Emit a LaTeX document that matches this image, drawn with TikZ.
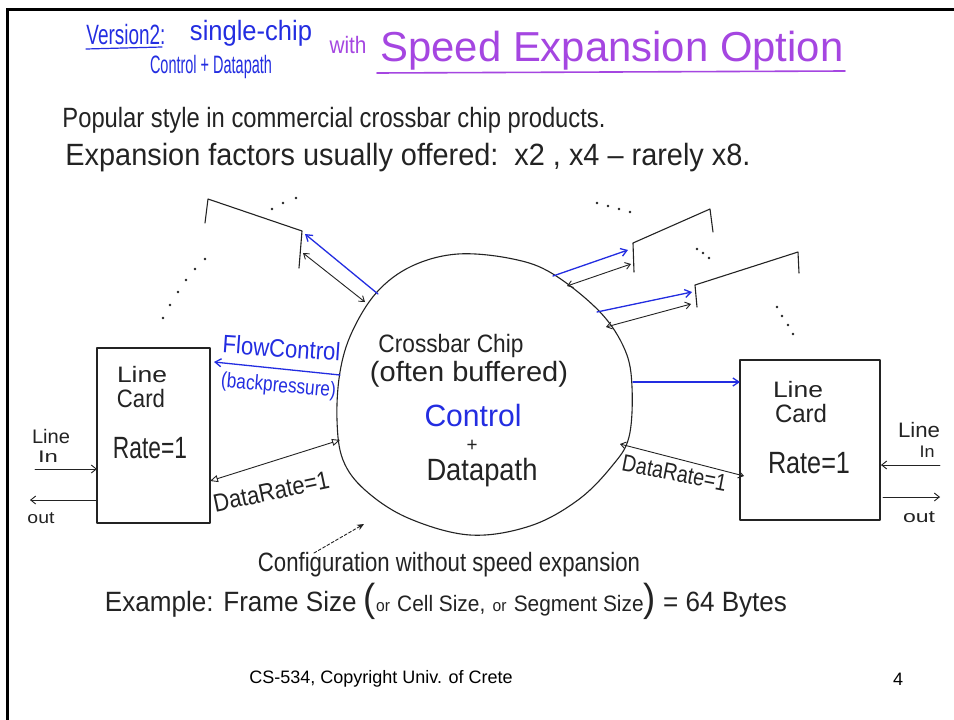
\documentclass[tikz,border=0pt]{standalone}
\usepackage{fontspec}
\setmainfont{Liberation Sans}
\usetikzlibrary{arrows.meta}
\definecolor{penblue}{RGB}{35,45,225}
\definecolor{penpurple}{RGB}{165,70,225}
\definecolor{ink}{RGB}{35,35,35}
% handwritten-style word: #1 = width, #2 = height of the 12pt strut after scaling (pt)
\newcommand{\hw}[3]{\resizebox{#1pt}{#2pt}{\fontsize{10}{12}\selectfont\rule{0pt}{12pt}#3}}

\begin{document}
\begin{tikzpicture}[x=1pt,y=-1pt,
  pen/.style={draw=ink,line width=1.1pt,line cap=round,line join=round},
  bluepen/.style={draw=penblue,line width=1.3pt,line cap=round,line join=round},
  txt/.style={inner sep=0pt,outer sep=0pt,anchor=base,text=ink},
  bluetxt/.style={txt,text=penblue},
  purpletxt/.style={txt,text=penpurple},
  card/.style={pen,rectangle,inner sep=0pt},
  sendblue/.style={bluepen,-{Straight Barb[length=6pt,width=8pt]}},
  twoway/.style={pen,line width=0.9pt,{Straight Barb[length=5pt,width=7pt]}-{Straight Barb[length=5pt,width=7pt]}},
  dataway/.style={pen,line width=0.9pt,{Triangle[open,length=8pt,width=7pt]}-{Triangle[open,length=8pt,width=7pt]}},
  oneway/.style={pen,line width=0.9pt,-{Straight Barb[length=5pt,width=8pt]}},
  dot/.style={fill=ink,circle,inner sep=0pt,minimum size=2.6pt}
]
% page area and slide frame
\useasboundingbox (0,0) rectangle (954,720);
\fill[white] (0,0) rectangle (954,720);
\draw[black,line width=3pt] (7.5,720) -- (7.5,9.5) -- (954,9.5);

% ---- heading ----
\node[bluetxt] (ver) at (126,44) {\hw{79}{33.5}{Version2:}};
\coordinate (verUL1) at (86,49);
\coordinate (verUL2) at (162,47);
\draw[bluepen,line width=1.2pt] (verUL1) -- (verUL2);
\node[bluetxt] (single) at (251,40) {\hw{122}{33.5}{single-chip}};
\node[bluetxt] (ctrldp) at (211,73) {\hw{122}{30.2}{Control + Datapath}};
\node[purpletxt] (with) at (348,53) {\hw{37}{28.5}{with}};
\node[purpletxt] (speed) at (612,61) {\hw{463}{50.3}{Speed Expansion Option}};
\coordinate (spUL1) at (377,73);
\coordinate (spUL2) at (845,71);
\draw[draw=penpurple,line width=1.6pt,line cap=round] (spUL1) -- (spUL2);

\node[txt] (popular) at (334,127) {\hw{543}{33.5}{Popular style in commercial crossbar chip products.}};
\node[txt] (factors) at (408,165) {\hw{685}{36.9}{Expansion factors usually offered:\ \ x2 , x4 -- rarely x8.}};

% ---- crossbar chip ----
\draw[pen] plot[smooth cycle,tension=0.6] coordinates {
  (377,292) (412,266) (458,254) (513,259) (553,274) (600,312) (625,350)
  (632,387) (629,437) (612,466) (578,500) (530,526) (470,535) (408,518)
  (365,490) (343,460) (337,420) (340,372) (352,332)};
\node[txt] (cb1) at (451,352) {\hw{145}{30.2}{Crossbar Chip}};
\node[txt] (cb2) at (469,381) {\hw{198}{33.5}{(often buffered)}};
\node[bluetxt] (cb3) at (473,426) {\hw{97}{36.9}{Control}};
\node[txt] (cb4) at (472,451) {\hw{11}{23.5}{+}};
\node[txt] (cb5) at (482,480) {\hw{111}{36.9}{Datapath}};

% attachment points on the chip outline
\coordinate (chTLb) at (378,294);
\coordinate (chTLk) at (365,302);
\coordinate (chTR1b) at (553,276);
\coordinate (chTR1k) at (567,286);
\coordinate (chTR2b) at (597,312);
\coordinate (chTR2k) at (606,327);
\coordinate (chFlow) at (340,375);
\coordinate (chDataL) at (340,440);
\coordinate (chOutR) at (633,382);
\coordinate (chDataR) at (620,444);

% ---- left line card ----
\node[card,minimum width=113pt,minimum height=175pt] (lcL) at (153.5,435.5) {};
\node[txt] (lcLa) at (142,382) {\hw{50}{26.8}{Line}};
\node[txt] (lcLb) at (141,407) {\hw{48}{30.2}{Card}};
\node[txt] (lcLc) at (150,458) {\hw{74}{36.9}{Rate=1}};
\coordinate (lcLin) at (97,469);
\coordinate (lcLout) at (96,500);
\coordinate (lcLflow) at (214,362);
\coordinate (lcLdata) at (210,481);
\coordinate (srcL) at (35,469);
\coordinate (sinkL) at (30,500);
\node[txt] (inL1) at (51,443) {\hw{38}{23.5}{Line}};
\node[txt] (inL2) at (48,462) {\hw{20}{20.1}{In}};
\node[txt] (outL) at (41,523) {\hw{27}{20.1}{out}};
\draw[oneway] (srcL) -- (lcLin);
\draw[oneway] (lcLout) -- (sinkL);
\draw[sendblue] (chFlow) -- (lcLflow);
\node[bluetxt,rotate=-4] (fc1) at (281,357) {\hw{118}{30.2}{FlowControl}};
\node[bluetxt,rotate=-5] (fc2) at (278,392) {\hw{115}{25.1}{(backpressure)}};
\draw[dataway] (lcLdata) -- (chDataL);
\node[txt,rotate=12] (drL) at (273,500) {\hw{118}{30.2}{DataRate=1}};

% ---- right line card ----
\node[card,minimum width=140pt,minimum height=160pt] (lcR) at (810,440) {};
\node[txt] (lcRa) at (798,397) {\hw{50}{26.8}{Line}};
\node[txt] (lcRb) at (801,422) {\hw{52}{30.2}{Card}};
\node[txt] (lcRc) at (809,473) {\hw{82}{36.9}{Rate=1}};
\coordinate (lcRin) at (740,382);
\coordinate (lcRdata) at (744,476);
\coordinate (lcRlin) at (881,465);
\coordinate (lcRlout) at (883,497);
\coordinate (srcR) at (940,465);
\coordinate (sinkR) at (940,497);
\node[txt] (inR1) at (919,437) {\hw{42}{25.1}{Line}};
\node[txt] (inR2) at (927,457) {\hw{15}{20.1}{In}};
\node[txt] (outR) at (919,522) {\hw{32}{20.1}{out}};
\draw[oneway] (srcR) -- (lcRlin);
\draw[oneway] (lcRlout) -- (sinkR);
\draw[sendblue] (chOutR) -- (lcRin);
\draw[twoway] (chDataR) -- (lcRdata);
\node[txt,rotate=-11] (drR) at (673,481) {\hw{106}{28.5}{DataRate=1}};

% ---- upper-left expansion port ----
\coordinate (p1a) at (205,223);
\coordinate (p1b) at (208,199);
\coordinate (p1c) at (302,231);
\coordinate (p1d) at (299,268);
\draw[pen] (p1a) -- (p1b) -- (p1c) -- (p1d);
\coordinate (p1blue) at (305,234);
\coordinate (p1link) at (303,253);
\draw[sendblue] (chTLb) -- (p1blue);
\draw[twoway] (chTLk) -- (p1link);

% ---- upper-right expansion ports ----
\coordinate (p2a) at (634,272);
\coordinate (p2b) at (633,243);
\coordinate (p2c) at (710,209);
\coordinate (p2d) at (713,232);
\draw[pen] (p2a) -- (p2b) -- (p2c) -- (p2d);
\coordinate (p2blue) at (628,250);
\coordinate (p2link) at (631,264);
\draw[sendblue] (chTR1b) -- (p2blue);
\draw[twoway] (chTR1k) -- (p2link);

\coordinate (p3a) at (697,307);
\coordinate (p3b) at (695,285);
\coordinate (p3c) at (798,252);
\coordinate (p3d) at (799,273);
\draw[pen] (p3a) -- (p3b) -- (p3c) -- (p3d);
\coordinate (p3blue) at (692,292);
\coordinate (p3link) at (691,304);
\draw[sendblue] (chTR2b) -- (p3blue);
\draw[twoway] (chTR2k) -- (p3link);

% ---- ellipsis dots ----
\foreach \p [count=\i] in {(272,209),(283,203),(296,198)}
  \node[dot] (dA\i) at \p {};
\foreach \p [count=\i] in {(205,259),(195,269),(186,280),(178,292),(170,305),(163,318)}
  \node[dot] (dB\i) at \p {};
\foreach \p [count=\i] in {(597,203),(608,206),(619,209),(630,212)}
  \node[dot] (dC\i) at \p {};
\foreach \p [count=\i] in {(697,249),(703,253),(709,258)}
  \node[dot] (dD\i) at \p {};
\foreach \p [count=\i] in {(777,307),(782,316),(788,325),(793,334)}
  \node[dot] (dE\i) at \p {};

% ---- notes below ----
\node[txt] (conf) at (449,571) {\hw{382}{31.8}{Configuration without speed expansion}};
\coordinate (confTail) at (314,553);
\coordinate (confHead) at (364,524);
\draw[pen,line width=0.9pt,dash pattern=on 3pt off 2pt,-{Stealth[length=7pt,width=6pt]}] (confTail) -- (confHead);
\node[txt] (example) at (446,611) {\hw{682}{33.5}{Example: Frame Size {\fontsize{14}{14}\selectfont(}{\fontsize{6}{6}\selectfont or} {\fontsize{8}{8}\selectfont Cell Size,} {\fontsize{6}{6}\selectfont or} {\fontsize{8}{8}\selectfont Segment Size}{\fontsize{14}{14}\selectfont)} = 64 Bytes}};

% ---- footer ----
\node[txt,anchor=center,text=black,font=\fontsize{18}{20}\selectfont] (foot) at (381,679) {CS-534, Copyright Univ. of Crete};
\node[txt,anchor=center,text=black,font=\fontsize{18}{20}\selectfont] (pageno) at (898,679) {4};
\end{tikzpicture}
\end{document}
